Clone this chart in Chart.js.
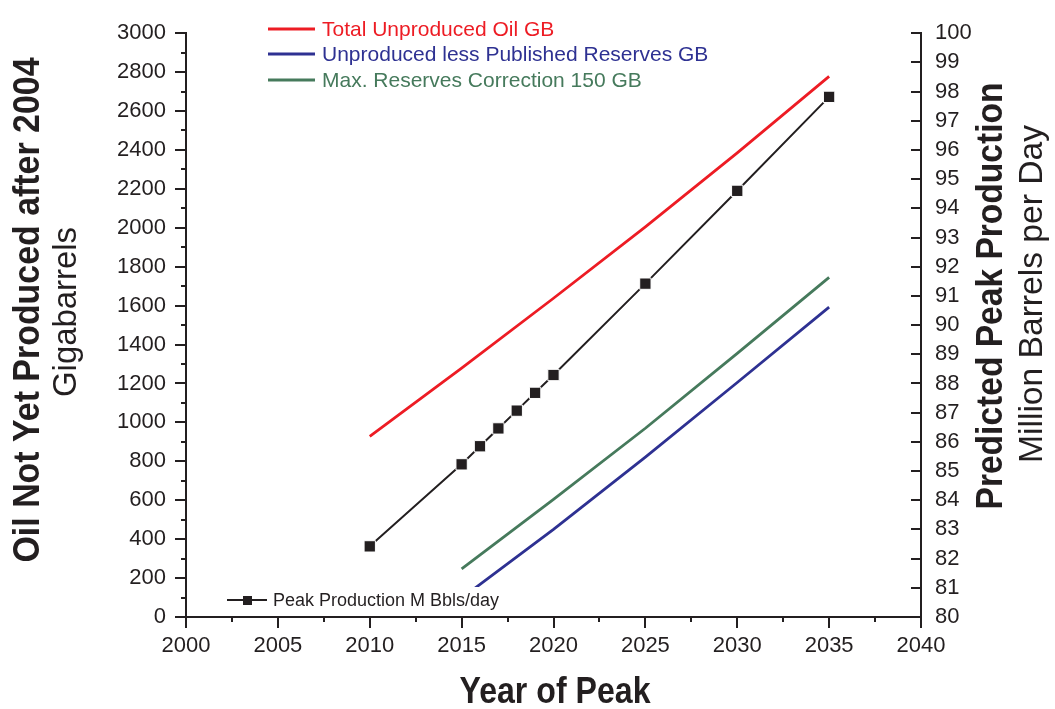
<!DOCTYPE html>
<html>
<head>
<meta charset="utf-8">
<script src="https://cdn.jsdelivr.net/npm/chart.js"></script>
<style>
  body { margin: 0; background: #fff; }
  #wrap { width: 1055px; height: 709px; position: relative; }
</style>
</head>
<body>
<div id="wrap"><canvas id="chart"></canvas></div>
<script>
// data
const oilYears = [2010, 2015, 2020, 2025, 2030, 2035];
const totalUnproduced = [928, 1279, 1638, 2005, 2385, 2778];

const reserveYears = [2015, 2020, 2025, 2030, 2035];
const lessPublished = [97, 450, 822, 1205, 1592];
const maxCorrection = [247, 605, 970, 1355, 1745];

const peakYears = [2010, 2015, 2016, 2017, 2018, 2019, 2020, 2025, 2030, 2035];
const peakProduction = [82.42, 85.23, 85.85, 86.46, 87.07, 87.68, 88.29, 91.42, 94.60, 97.82];

const seriesNames = ['Total Unproduced Oil GB', 'Unproduced less Published Reserves GB', 'Max. Reserves Correction 150 GB'];
const peakName = 'Peak Production M Bbls/day';

const ink = '#231f20';
const red = '#ed1c24', blue = '#2e3192', green = '#467a5c';

const pts = (xs, ys) => xs.map((x, i) => ({ x: x, y: ys[i] }));

// text squeezed/stretched to a given width
function fitText(ctx, text, font, x, y, rot, width) {
  ctx.save();
  ctx.font = font;
  ctx.fillStyle = ink;
  ctx.textAlign = 'center';
  ctx.textBaseline = 'alphabetic';
  ctx.translate(x, y);
  ctx.rotate(rot);
  const w = ctx.measureText(text).width;
  ctx.scale(width / w, 1);
  ctx.fillText(text, 0, 0);
  ctx.restore();
}

const extras = {
  id: 'extras',
  afterDraw(chart) {
    const ctx = chart.ctx;
    const xs = chart.scales.x, ys = chart.scales.y, y2 = chart.scales.y2;
    ctx.save();
    ctx.strokeStyle = ink;
    ctx.lineWidth = 2;
    ctx.beginPath();
    // left ticks, outward, minor every 100
    for (let v = 0; v <= 3000; v += 100) {
      const p = Math.round(ys.getPixelForValue(v));
      const len = v % 200 === 0 ? 11 : 5;
      ctx.moveTo(ys.right, p); ctx.lineTo(ys.right - len, p);
    }
    // bottom ticks, outward, minor every 2.5
    for (let v = 2000; v <= 2040; v += 2.5) {
      const p = Math.round(xs.getPixelForValue(v));
      const len = v % 5 === 0 ? 11 : 5;
      ctx.moveTo(p, xs.top); ctx.lineTo(p, xs.top + len);
    }
    // right ticks, inward
    for (let v = 80; v <= 100; v += 1) {
      const p = Math.round(y2.getPixelForValue(v));
      ctx.moveTo(y2.left, p); ctx.lineTo(y2.left - 10, p);
    }
    ctx.stroke();

    // top legend
    const colors = [red, blue, green];
    const rows = [29, 54, 80];
    ctx.font = '21px "Liberation Sans", Arial, sans-serif';
    ctx.textBaseline = 'middle';
    ctx.textAlign = 'left';
    seriesNames.forEach((name, i) => {
      ctx.strokeStyle = colors[i];
      ctx.lineWidth = 3;
      ctx.beginPath();
      ctx.moveTo(268, rows[i]); ctx.lineTo(315, rows[i]);
      ctx.stroke();
      ctx.fillStyle = colors[i];
      ctx.fillText(name, 322, rows[i] + 1);
    });

    // bottom legend box
    ctx.fillStyle = '#fff';
    ctx.fillRect(220, 587, 282, 26);
    ctx.strokeStyle = ink;
    ctx.lineWidth = 2;
    ctx.beginPath();
    ctx.moveTo(227, 600); ctx.lineTo(267, 600);
    ctx.stroke();
    ctx.fillStyle = ink;
    ctx.fillRect(243, 596, 9, 9);
    ctx.font = '18px "Liberation Sans", Arial, sans-serif';
    ctx.fillText(peakName, 273, 601);
    ctx.restore();

    // axis titles
    const B = 'bold 36px "Liberation Sans", Arial, sans-serif';
    const N = '34px "Liberation Sans", Arial, sans-serif';
    fitText(ctx, 'Year of Peak', B, 555, 703, 0, 191);
    fitText(ctx, 'Oil Not Yet Produced after 2004', B, 39, 310, -Math.PI / 2, 505);
    fitText(ctx, 'Gigabarrels', N, 76, 312, -Math.PI / 2, 170);
    fitText(ctx, 'Predicted Peak Production', B, 1002, 296, -Math.PI / 2, 427);
    fitText(ctx, 'Million Barrels per Day', N, 1042, 294, -Math.PI / 2, 338);
  }
};

const tickFont = { family: '"Liberation Sans", Arial, sans-serif', size: 22 };
const plain = v => String(v);

new Chart(document.getElementById('chart'), {
  type: 'line',
  data: {
    datasets: [
      {
        label: seriesNames[0], data: pts(oilYears, totalUnproduced), yAxisID: 'y',
        borderColor: red, borderWidth: 2.8, pointRadius: 0
      },
      {
        label: seriesNames[1], data: pts(reserveYears, lessPublished), yAxisID: 'y',
        borderColor: blue, borderWidth: 2.8, pointRadius: 0
      },
      {
        label: seriesNames[2], data: pts(reserveYears, maxCorrection), yAxisID: 'y',
        borderColor: green, borderWidth: 2.8, pointRadius: 0
      },
      {
        label: peakName, data: pts(peakYears, peakProduction), yAxisID: 'y2',
        borderColor: ink, borderWidth: 2, pointStyle: 'rect', pointRadius: 8,
        pointBackgroundColor: ink, pointBorderColor: '#fff', pointBorderWidth: 1
      }
    ]
  },
  options: {
    responsive: true,
    maintainAspectRatio: false,
    animation: false,
    layout: { padding: { top: 23, left: 0, right: 0, bottom: 0 } },
    elements: { line: { tension: 0 } },
    plugins: { legend: { display: false }, tooltip: { enabled: false } },
    scales: {
      x: {
        type: 'linear', position: 'bottom', min: 2000, max: 2040,
        grid: { display: false, drawTicks: false },
        border: { display: true, color: ink, width: 2 },
        ticks: { stepSize: 5, font: tickFont, color: ink, padding: 16, autoSkip: false, maxRotation: 0, callback: plain },
        afterFit: s => { s.height = 92; }
      },
      y: {
        type: 'linear', position: 'left', min: 0, max: 3000,
        grid: { display: false, drawTicks: false },
        border: { display: true, color: ink, width: 2 },
        ticks: { stepSize: 200, font: tickFont, color: ink, padding: 20, autoSkip: false, callback: plain },
        afterFit: s => { s.width = 186; }
      },
      y2: {
        type: 'linear', position: 'right', min: 80, max: 100,
        grid: { display: false, drawTicks: false },
        border: { display: true, color: ink, width: 2 },
        ticks: { stepSize: 1, font: tickFont, color: ink, padding: 14, autoSkip: false, callback: plain },
        afterFit: s => { s.width = 134; }
      }
    }
  },
  plugins: [extras]
});
</script>
</body>
</html>
